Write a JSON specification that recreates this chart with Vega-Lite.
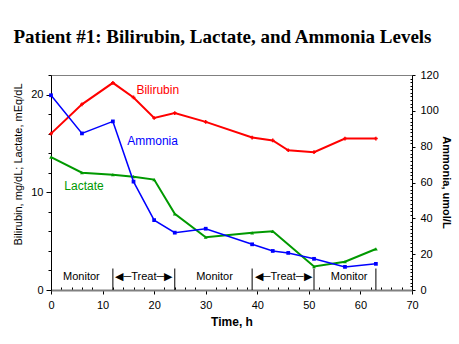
{
  "$schema": "https://vega.github.io/schema/vega-lite/v6.json",
  "width": 361,
  "height": 215,
  "autosize": {"type": "none"},
  "padding": {"left": 51, "top": 75, "right": 47, "bottom": 54},
  "background": "white",
  "config": {
    "font": "Liberation Sans",
    "view": {"stroke": "#808080", "strokeWidth": 1},
    "axis": {"labelFont": "Liberation Sans", "titleFont": "Liberation Sans", "labelColor": "black", "titleColor": "black", "tickColor": "black", "grid": false, "labelOverlap": false, "labelBound": false, "labelFlush": false}
  },
  "title": {
    "text": "Patient #1: Bilirubin, Lactate, and Ammonia Levels",
    "font": "Liberation Serif",
    "fontSize": 19,
    "fontWeight": "bold",
    "color": "black",
    "anchor": "middle",
    "frame": "group",
    "baseline": "alphabetic",
    "offset": 7,
    "dx": -9
  },
  "datasets": {
    "series": [
      {"time": 0, "series": "Bilirubin", "value": 16.0},
      {"time": 6, "series": "Bilirubin", "value": 19.0},
      {"time": 12, "series": "Bilirubin", "value": 21.2},
      {"time": 16, "series": "Bilirubin", "value": 19.7},
      {"time": 20, "series": "Bilirubin", "value": 17.6},
      {"time": 24, "series": "Bilirubin", "value": 18.1},
      {"time": 30, "series": "Bilirubin", "value": 17.2},
      {"time": 39, "series": "Bilirubin", "value": 15.6},
      {"time": 43, "series": "Bilirubin", "value": 15.3},
      {"time": 46, "series": "Bilirubin", "value": 14.3},
      {"time": 51, "series": "Bilirubin", "value": 14.1},
      {"time": 57, "series": "Bilirubin", "value": 15.5},
      {"time": 63, "series": "Bilirubin", "value": 15.5},
      {"time": 0, "series": "Lactate", "value": 13.6},
      {"time": 6, "series": "Lactate", "value": 12.0},
      {"time": 12, "series": "Lactate", "value": 11.8},
      {"time": 16, "series": "Lactate", "value": 11.6},
      {"time": 20, "series": "Lactate", "value": 11.3},
      {"time": 24, "series": "Lactate", "value": 7.8},
      {"time": 30, "series": "Lactate", "value": 5.4},
      {"time": 39, "series": "Lactate", "value": 5.85},
      {"time": 43, "series": "Lactate", "value": 6.0},
      {"time": 51, "series": "Lactate", "value": 2.4},
      {"time": 57, "series": "Lactate", "value": 2.9},
      {"time": 63, "series": "Lactate", "value": 4.2},
      {"time": 0, "series": "Ammonia", "value": 108.7},
      {"time": 6, "series": "Ammonia", "value": 87.4},
      {"time": 12, "series": "Ammonia", "value": 94.1},
      {"time": 16, "series": "Ammonia", "value": 60.5},
      {"time": 20, "series": "Ammonia", "value": 39},
      {"time": 24, "series": "Ammonia", "value": 32},
      {"time": 30, "series": "Ammonia", "value": 34.2},
      {"time": 39, "series": "Ammonia", "value": 25.5},
      {"time": 43, "series": "Ammonia", "value": 21.8},
      {"time": 46, "series": "Ammonia", "value": 20.7},
      {"time": 51, "series": "Ammonia", "value": 17.4},
      {"time": 57, "series": "Ammonia", "value": 12.9},
      {"time": 63, "series": "Ammonia", "value": 14.6}
    ],
    "boundaries": [{"time": 12}, {"time": 24}, {"time": 39}, {"time": 51}, {"time": 63}],
    "phases": [
      {"label": "Monitor", "time": 5.9},
      {"label": "◀─Treat─▶", "time": 18},
      {"label": "Monitor", "time": 31.7},
      {"label": "◀─Treat─▶", "time": 45},
      {"label": "Monitor", "time": 57.8}
    ],
    "seriesLabels": [
      {"series": "Bilirubin", "time": 20.7, "value": 20.5},
      {"series": "Ammonia", "time": 19.7, "value": 15.2},
      {"series": "Lactate", "time": 6.4, "value": 10.6}
    ]
  },
  "layer": [
    {
      "layer": [
        {
          "data": {"name": "boundaries"},
          "mark": {"type": "rule", "color": "black", "strokeWidth": 1},
          "encoding": {
            "x": {
              "field": "time", "type": "quantitative",
              "scale": {"domain": [0, 70], "nice": false, "zero": false},
              "axis": {
                "orient": "bottom",
                "values": [2,4,6,8,12,14,16,18,22,24,26,28,32,34,36,38,42,44,46,48,52,54,56,58,62,64,66,68],
                "labels": false,
                "domain": false,
                "tickSize": -3,
                "title": null
              }
            },
            "y": {
              "datum": 0,
              "type": "quantitative",
              "scale": {"domain": [0, 22], "nice": false},
              "axis": {
                "orient": "left",
                "values": [2,4,6,8,12,14,16,18,22],
                "labels": false,
                "domain": false,
                "tickSize": 3,
                "title": null
              }
            },
            "y2": {"datum": 2.2}
          }
        },
        {
          "data": {"name": "series"},
          "transform": [{"filter": "datum.series !== 'Ammonia'"}],
          "mark": {"type": "line", "strokeWidth": 2},
          "encoding": {
            "x": {
              "field": "time", "type": "quantitative",
              "axis": {
                "orient": "bottom",
                "values": [0, 10, 20, 30, 40, 50, 60, 70],
                "tickSize": 4,
                "labelPadding": 5,
                "labelFontSize": 11,
                "domainColor": "#808080",
                "domainWidth": 2,
                "title": "Time, h",
                "titleFontSize": 12,
                "titleFontWeight": "bold",
                "titleY": 35,
                "titleBaseline": "alphabetic"
              }
            },
            "y": {
              "field": "value", "type": "quantitative",
              "axis": {
                "orient": "left",
                "values": [0, 10, 20],
                "tickSize": 5,
                "labelPadding": 3,
                "labelFontSize": 11,
                "domainColor": "black",
                "title": "Bilirubin, mg/dL; Lactate, mEq/dL",
                "titleFontSize": 11,
                "titleFontWeight": "normal",
                "titleX": -30,
                "titleY": 89,
                "titleBaseline": "alphabetic"
              }
            },
            "color": {
              "field": "series", "type": "nominal",
              "scale": {"domain": ["Bilirubin", "Lactate", "Ammonia"], "range": ["#ff0000", "#009900", "#0000ff"]},
              "legend": null
            },
            "detail": {"field": "series"}
          }
        },
        {
          "data": {"name": "series"},
          "transform": [{"filter": "datum.series !== 'Ammonia'"}],
          "mark": {"type": "point", "filled": true, "size": 14, "opacity": 1},
          "encoding": {
            "x": {"field": "time", "type": "quantitative", "axis": null},
            "y": {"field": "value", "type": "quantitative", "axis": null},
            "color": {"field": "series", "type": "nominal", "legend": null},
            "shape": {"field": "series", "type": "nominal", "scale": {"domain": ["Bilirubin", "Lactate", "Ammonia"], "range": ["cross", "triangle-up", "square"]}, "legend": null}
          }
        },
        {
          "data": {"name": "phases"},
          "mark": {"type": "text", "fontSize": 11, "color": "black", "font": "Liberation Sans", "align": "center", "baseline": "middle"},
          "encoding": {
            "x": {"field": "time", "type": "quantitative", "axis": null},
            "y": {"datum": 1.35, "type": "quantitative", "axis": null},
            "text": {"field": "label"}
          }
        },
        {
          "data": {"name": "seriesLabels"},
          "mark": {"type": "text", "fontSize": 12, "font": "Liberation Sans", "align": "center", "baseline": "middle"},
          "encoding": {
            "x": {"field": "time", "type": "quantitative", "axis": null},
            "y": {"field": "value", "type": "quantitative", "axis": null},
            "color": {"field": "series", "type": "nominal", "legend": null},
            "text": {"field": "series"}
          }
        }
      ],
      "resolve": {"axis": {"x": "independent", "y": "independent"}}
    },
    {
      "layer": [
        {
          "data": {"name": "series"},
          "transform": [{"filter": "datum.series === 'Ammonia'"}],
          "mark": {"type": "line", "strokeWidth": 1.5},
          "encoding": {
            "x": {"field": "time", "type": "quantitative", "axis": null},
            "y": {
              "field": "value", "type": "quantitative",
              "scale": {"domain": [0, 120], "nice": false},
              "axis": {
                "orient": "right",
                "values": [0, 20, 40, 60, 80, 100, 120],
                "tickSize": 3,
                "labelPadding": 5,
                "labelFontSize": 11,
                "domainColor": "black",
                "title": "Ammonia, umol/L",
                "titleFontSize": 11,
                "titleFontWeight": "bold",
                "titleAngle": 90,
                "titleX": 30,
                "titleY": 107,
                "titleAlign": "center",
                "titleBaseline": "alphabetic"
              }
            },
            "color": {"field": "series", "type": "nominal", "legend": null}
          }
        },
        {
          "data": {"name": "series"},
          "transform": [{"filter": "datum.series === 'Ammonia'"}],
          "mark": {"type": "point", "filled": true, "size": 14, "opacity": 1},
          "encoding": {
            "x": {"field": "time", "type": "quantitative", "axis": null},
            "y": {
              "field": "value", "type": "quantitative",
              "axis": {
                "orient": "right",
                "values": [2,4,6,8,10,12,14,16,18,22,24,26,28,30,32,34,36,38,42,44,46,48,50,52,54,56,58,62,64,66,68,70,72,74,76,78,82,84,86,88,90,92,94,96,98,102,104,106,108,110,112,114,116,118],
                "labels": false,
                "domain": false,
                "tickSize": -2,
                "title": null
              }
            },
            "color": {"field": "series", "type": "nominal", "legend": null},
            "shape": {"field": "series", "type": "nominal", "legend": null}
          }
        }
      ],
      "resolve": {"axis": {"y": "independent"}}
    }
  ],
  "resolve": {"scale": {"y": "independent"}, "axis": {"x": "independent", "y": "independent"}}
}
